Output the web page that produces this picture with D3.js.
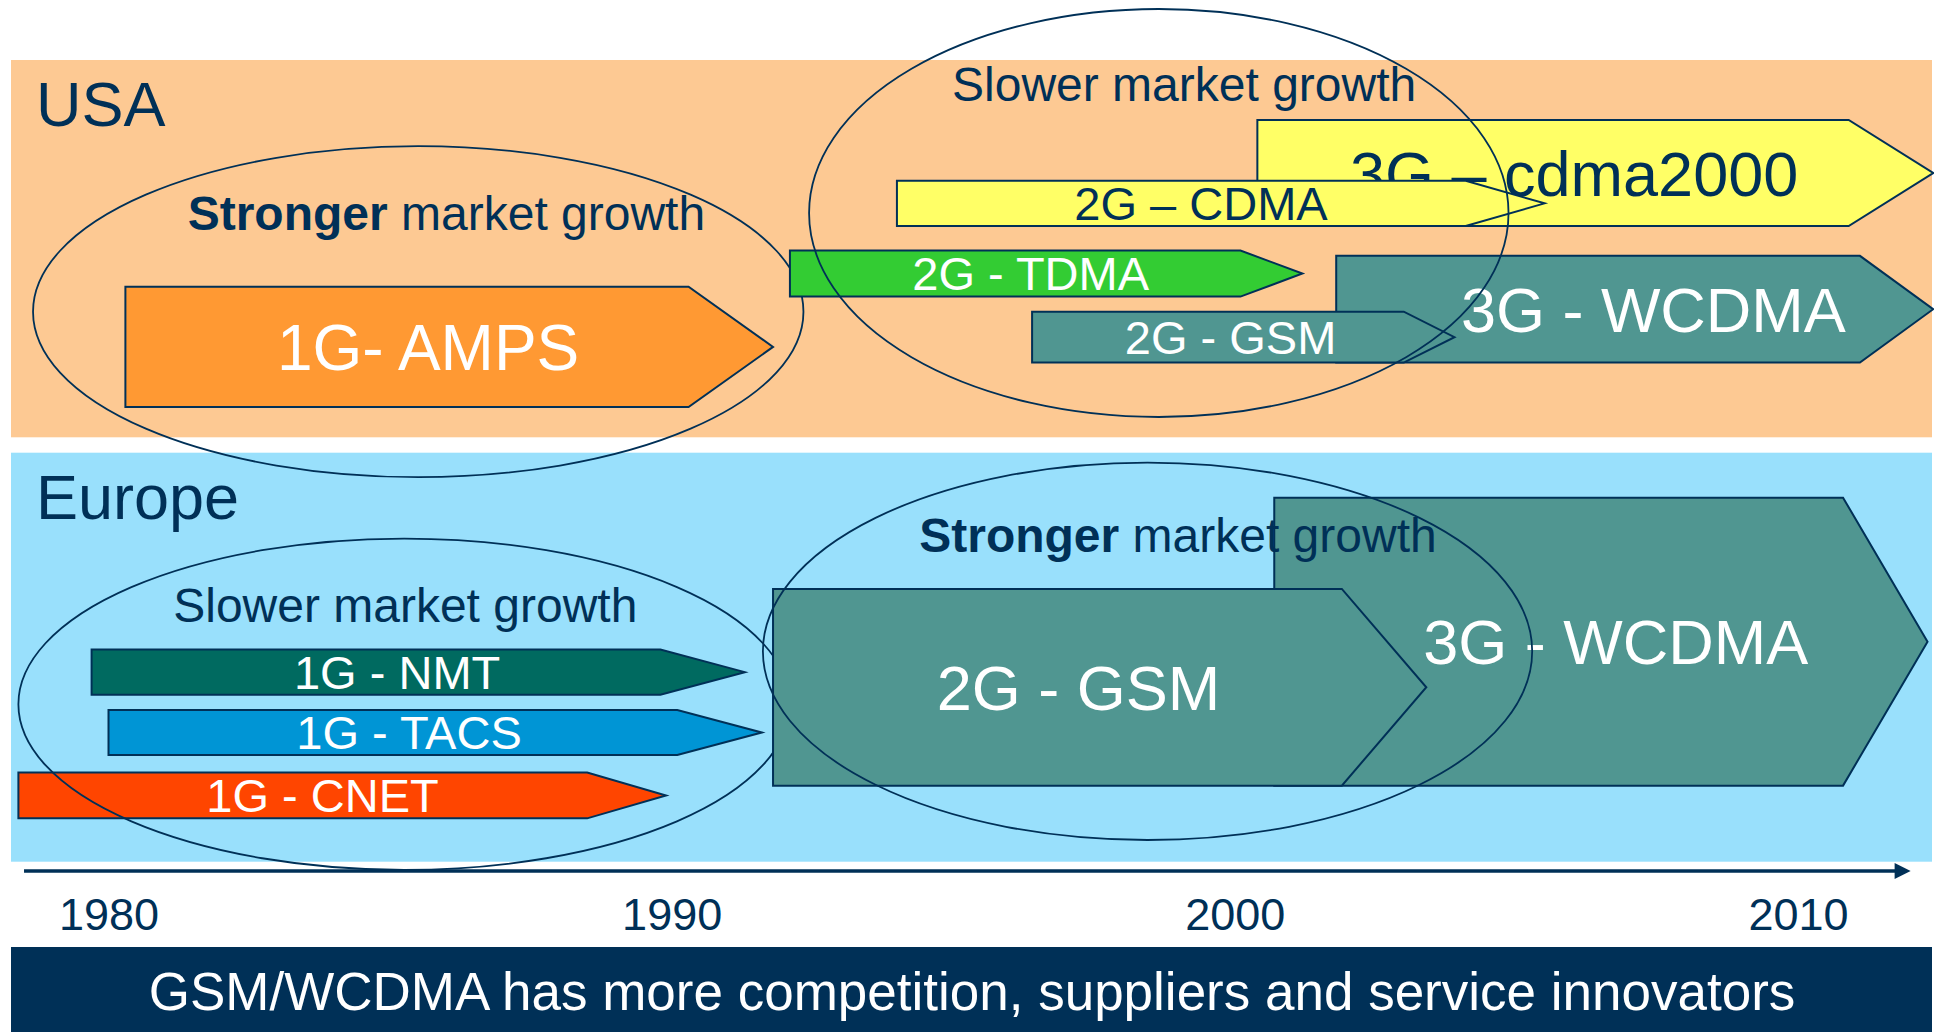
<!DOCTYPE html>
<html>
<head>
<meta charset="utf-8">
<script src="https://cdn.jsdelivr.net/npm/d3@7"></script>
<style>
  body { margin: 0; background: #fff; }
  svg { display: block; }
  text { font-family: "Liberation Sans", Arial, sans-serif; }
</style>
</head>
<body>
<svg width="1934" height="1032"></svg>
<script>
// ---- data ----
var regions = ["USA", "Europe"];
var tickYears = [1980, 1990, 2000, 2010];
var axisYears = [1978.5, 2012.0];

var techNames  = ["1G- AMPS", "2G - TDMA", "3G \u2013 cdma2000", "2G \u2013 CDMA", "3G - WCDMA", "2G - GSM",
                  "1G - NMT", "1G - TACS", "1G - CNET", "3G - WCDMA", "2G - GSM"];
var techRegion = ["USA", "USA", "USA", "USA", "USA", "USA",
                  "Europe", "Europe", "Europe", "Europe", "Europe"];
var techStart  = [1980.3, 1992.1, 2000.4, 1994.0, 2001.8, 1996.4, 1979.7, 1980.0, 1978.4, 2000.7, 1991.8];
var techBodyEnd= [1990.3, 2000.1, 2010.9, 2004.1, 2011.1, 2003.0, 1989.8, 1990.1, 1988.5, 2010.8, 2001.9];
var techTip    = [1991.8, 2001.2, 2012.4, 2005.5, 2012.4, 2003.9, 1991.3, 1991.6, 1989.9, 2012.3, 2003.4];

var zoneRegion = ["USA", "USA", "Europe", "Europe"];
var zoneBold   = ["Stronger", "Slower", "Slower", "Stronger"];
var zoneCenter = [1985.5, 1998.65, 1985.25, 1998.45];
var zoneHalf   = [6.84, 6.21, 6.85, 6.83];

var footer = "GSM/WCDMA has more competition, suppliers and service innovators";

// ---- layout / style ----
var navy = "#003057";
var panelColor = { USA: "#FDC993", Europe: "#99E0FC" };
var panelY = { USA: [60, 437.3], Europe: [452.7, 861.7] };
// lane extents as fraction of panel height
var techLane = [[0.601, 0.920], [0.505, 0.627], [0.159, 0.440], [0.320, 0.440], [0.519, 0.802], [0.667, 0.802],
                [0.481, 0.592], [0.629, 0.739], [0.782, 0.894], [0.110, 0.814], [0.333, 0.814]];
var techColor = ["#FF9933", "#33CC33", "#FFFF66", "#FFFF66", "#509691", "#509691",
                 "#006A60", "#0095D5", "#FF4500", "#509691", "#509691"];
var techText  = ["#fff", "#fff", navy, navy, "#fff", "#fff", "#fff", "#fff", "#fff", "#fff", "#fff"];
var techFont  = [64, 47, 63, 47, 63, 47, 47, 47, 47, 63, 63];
var techDx    = [0, 0, 0, 0, 37, 0, 0, -5, 0, 36, 0];
var techLayer = [0, 1, 1, 1, 1, 1, 0, 0, 0, 1, 1];
var zoneY     = [[0.667, 0.4386], [0.4055, 0.5407], [0.615, 0.405], [0.4856, 0.4614]];
var zoneLayer = [0, 1, 0, 1];
var zoneTextX = [1986.0, 1999.1, 1985.27, 1998.99];
var zoneTextY = [0.4506, 0.108, 0.413, 0.242];

var svg = d3.select("svg"),
    width = +svg.attr("width"),
    height = +svg.attr("height");

var x = d3.scaleLinear().domain([1980, 2010]).range([108.5, 1798]);
var y = {};
regions.forEach(function(r) {
  y[r] = d3.scaleLinear().domain([0, 1]).range(panelY[r]);
});

// panels
regions.forEach(function(r) {
  svg.append("rect")
    .attr("x", 11).attr("y", panelY[r][0])
    .attr("width", 1921).attr("height", panelY[r][1] - panelY[r][0])
    .attr("fill", panelColor[r]);
  svg.append("text")
    .attr("x", 36).attr("y", panelY[r][0] + 66)
    .attr("font-size", 63).attr("fill", navy)
    .text(r);
});

function arrowPath(i) {
  var ys = y[techRegion[i]],
      t = ys(techLane[i][0]), b = ys(techLane[i][1]),
      p = d3.path();
  p.moveTo(x(techStart[i]), t);
  p.lineTo(x(techBodyEnd[i]), t);
  p.lineTo(x(techTip[i]), (t + b) / 2);
  p.lineTo(x(techBodyEnd[i]), b);
  p.lineTo(x(techStart[i]), b);
  p.closePath();
  return p.toString();
}

function drawTech(layer) {
  techNames.forEach(function(name, i) {
    if (techLayer[i] !== layer) return;
    var g = svg.append("g");
    g.append("path")
      .attr("d", arrowPath(i))
      .attr("fill", techColor[i])
      .attr("stroke", navy)
      .attr("stroke-width", 2);
    var ys = y[techRegion[i]],
        mid = (ys(techLane[i][0]) + ys(techLane[i][1])) / 2,
        cx = (x(techStart[i]) + (x(techBodyEnd[i]) + x(techTip[i])) / 2) / 2;
    g.append("text")
      .attr("x", cx + techDx[i])
      .attr("y", mid + 0.36 * techFont[i])
      .attr("text-anchor", "middle")
      .attr("font-size", techFont[i])
      .attr("fill", techText[i])
      .text(name);
  });
}

function drawZones(layer) {
  zoneBold.forEach(function(b, i) {
    if (zoneLayer[i] !== layer) return;
    var ys = y[zoneRegion[i]],
        cy = ys(zoneY[i][0]),
        ry = ys(zoneY[i][1]) - ys(0);
    svg.append("ellipse")
      .attr("cx", x(zoneCenter[i]))
      .attr("cy", cy)
      .attr("rx", x(zoneCenter[i] + zoneHalf[i]) - x(zoneCenter[i]))
      .attr("ry", ry)
      .attr("fill", "none")
      .attr("stroke", navy)
      .attr("stroke-width", 1.8);
  });
}

drawTech(0);
drawZones(0);
drawTech(1);
drawZones(1);

// zone captions
zoneBold.forEach(function(b, i) {
  var t = svg.append("text")
    .attr("x", x(zoneTextX[i]))
    .attr("y", y[zoneRegion[i]](zoneTextY[i]))
    .attr("text-anchor", "middle")
    .attr("font-size", 48)
    .attr("fill", navy);
  if (b === "Stronger") {
    t.append("tspan").attr("font-weight", "bold").text(b);
    t.append("tspan").text(" market growth");
  } else {
    t.append("tspan").text(b + " market growth");
  }
});

// time axis
var axisY = 871;
svg.append("line")
  .attr("x1", x(axisYears[0])).attr("x2", x(axisYears[1]) - 14)
  .attr("y1", axisY).attr("y2", axisY)
  .attr("stroke", navy).attr("stroke-width", 3.5);
var tipX = x(axisYears[1]);
svg.append("path")
  .attr("d", "M" + (tipX - 16) + "," + (axisY - 8) + "L" + tipX + "," + axisY + "L" + (tipX - 16) + "," + (axisY + 8) + "Z")
  .attr("fill", navy);

var axis = svg.append("g")
  .attr("transform", "translate(0," + axisY + ")")
  .call(d3.axisBottom(x).tickValues(tickYears).tickFormat(d3.format("d")).tickSize(0).tickPadding(27));
axis.select(".domain").remove();
axis.selectAll("text")
  .attr("font-size", 45)
  .attr("fill", navy)
  .style("font-family", "'Liberation Sans', Arial, sans-serif");

// footer banner
svg.append("rect")
  .attr("x", 11).attr("y", 947)
  .attr("width", 1921).attr("height", height - 947)
  .attr("fill", navy);
svg.append("text")
  .attr("x", width / 2 + 5).attr("y", 1010)
  .attr("text-anchor", "middle")
  .attr("font-size", 53)
  .attr("fill", "#fff")
  .text(footer);
</script>
</body>
</html>
